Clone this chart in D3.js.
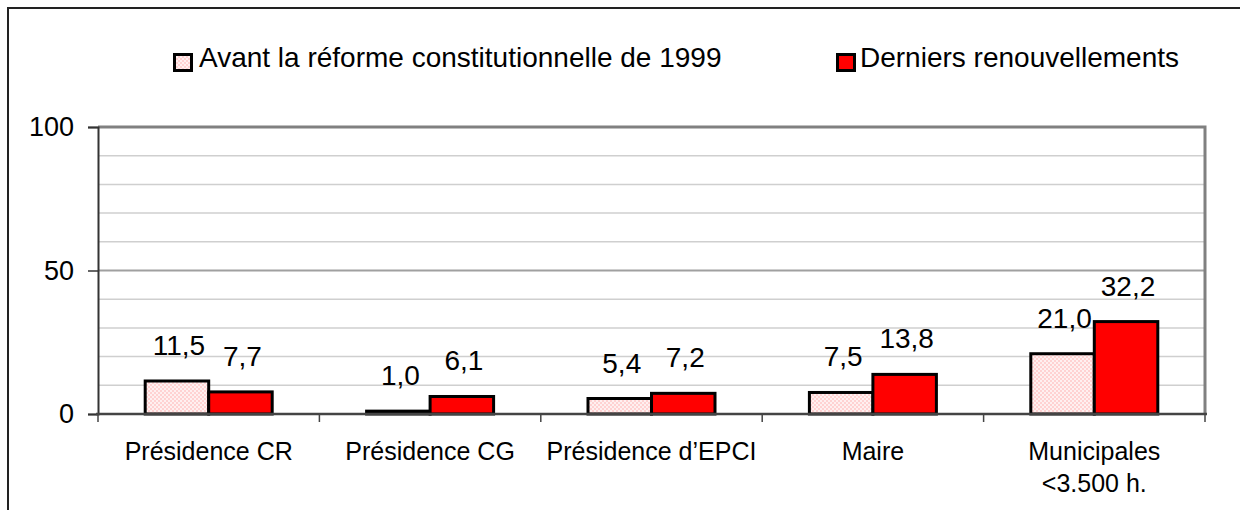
<!DOCTYPE html>
<html><head><meta charset="utf-8">
<script src="https://cdn.jsdelivr.net/npm/d3@7"></script>
<style>
html,body{margin:0;padding:0;background:#fff;}
svg{display:block;font-family:"Liberation Sans",Arial,sans-serif;}
</style></head>
<body><svg id="c" width="1240" height="510"></svg>
<script>
const categories = ["Présidence CR", "Présidence CG", "Présidence d’EPCI", "Maire", "Municipales\n<3.500 h."];
const seriesNames = ["Avant la réforme constitutionnelle de 1999", "Derniers renouvellements"];
const avant = [11.5, 1.0, 5.4, 7.5, 21.0];
const derniers = [7.7, 6.1, 7.2, 13.8, 32.2];
const yTicks = [0, 50, 100];
const gridTicks = [10, 20, 30, 40, 60, 70, 80, 90];

const svg = d3.select("#c");
const defs = svg.append("defs");
const pat = defs.append("pattern").attr("id","dots").attr("width",4).attr("height",4).attr("patternUnits","userSpaceOnUse");
pat.append("rect").attr("width",4).attr("height",4).attr("fill","#FFD2D2").attr("shape-rendering","crispEdges");
pat.append("rect").attr("width",2).attr("height",2).attr("fill","#FFF0F0").attr("shape-rendering","crispEdges");
pat.append("rect").attr("x",2).attr("y",2).attr("width",2).attr("height",2).attr("fill","#FFF0F0").attr("shape-rendering","crispEdges");
const fills = ["url(#dots)", "#FF0000"];

// outer frame (top + left)
svg.append("path").attr("d","M8,510 V8 H1240").attr("fill","none").attr("stroke","#222").attr("stroke-width",2);

const L = 98, R = 1205, T = 127, B = 414;
const x = d3.scaleBand().domain(categories).range([L, R]).padding(0);
const y = d3.scaleLinear().domain([0, 100]).range([B, T]);
const xs = d3.scaleBand().domain([0,1]).range([0, 127]);
const off = (x.bandwidth() - 127) / 2;

// grid
svg.append("g").selectAll("line").data(gridTicks).join("line")
  .attr("x1", L).attr("x2", R).attr("y1", d => y(d)).attr("y2", d => y(d))
  .attr("stroke", "#CFCFCF").attr("stroke-width", 1.5);
svg.append("line").attr("x1",L).attr("x2",R).attr("y1",y(50)).attr("y2",y(50)).attr("stroke","#A0A0A0").attr("stroke-width",2);
// plot border top/right
svg.append("path").attr("d",`M${L},${y(100)} H${R} V${B}`).attr("fill","none").attr("stroke","#808080").attr("stroke-width",3);

// bars
const data = categories.map((c,i) => [avant[i], derniers[i]]);
const fmt = v => d3.format(".1f")(v).replace(".", ",");
const g = svg.append("g");
categories.forEach((c, i) => {
  data[i].forEach((v, s) => {
    const bx = x(c) + off + xs(s);
    g.append("rect").attr("x", bx).attr("y", y(v)).attr("width", xs.bandwidth()).attr("height", y(0) - y(v))
      .attr("fill", fills[s]).attr("stroke", "#000").attr("stroke-width", 3);
    g.append("text").attr("x", bx + xs.bandwidth()/2 + 2).attr("y", y(v) - 26)
      .attr("text-anchor","middle").attr("font-size", 28).attr("fill","#000").text(fmt(v));
  });
});

// y axis
const ya = svg.append("g").attr("transform",`translate(${L},0)`)
  .call(d3.axisLeft(y).tickValues(yTicks).tickSize(10).tickPadding(14).tickFormat(d3.format("d")));
ya.select(".domain").attr("stroke","#333").attr("stroke-width",2);
ya.selectAll(".tick line").attr("stroke","#333").attr("stroke-width",1.5);
ya.selectAll(".tick text").attr("font-size",27).attr("font-family","Liberation Sans, Arial, sans-serif").attr("fill","#000");

// x axis
svg.append("line").attr("x1",L-2).attr("x2",R+2).attr("y1",B).attr("y2",B).attr("stroke","#444").attr("stroke-width",2.5);
const bounds = categories.map(c => x(c)).concat([R]);
svg.append("g").selectAll("line").data(bounds).join("line")
  .attr("x1", d => d).attr("x2", d => d).attr("y1", B).attr("y2", B + 8)
  .attr("stroke","#444").attr("stroke-width",1.5);
const xl = svg.append("g").selectAll("text").data(categories).join("text")
  .attr("x", d => x(d) + x.bandwidth()/2).attr("y", 460)
  .attr("text-anchor","middle").attr("font-size",25).attr("fill","#000");
xl.each(function(d){
  const lines = d.split("\n");
  const t = d3.select(this);
  lines.forEach((ln, k) => t.append("tspan").attr("x", x(d) + x.bandwidth()/2).attr("dy", k ? 32 : 0).text(ln));
});

// legend
const leg = [{x:173, tx:199}, {x:836, tx:860}];
seriesNames.forEach((n, s) => {
  svg.append("rect").attr("x", leg[s].x + 1.5).attr("y", 54.5).attr("width", 17).attr("height", 16)
    .attr("fill", fills[s]).attr("stroke","#000").attr("stroke-width",3);
  svg.append("text").attr("x", leg[s].tx).attr("y", 67).attr("font-size", 28).attr("fill","#000").text(n);
});
</script></body></html>
